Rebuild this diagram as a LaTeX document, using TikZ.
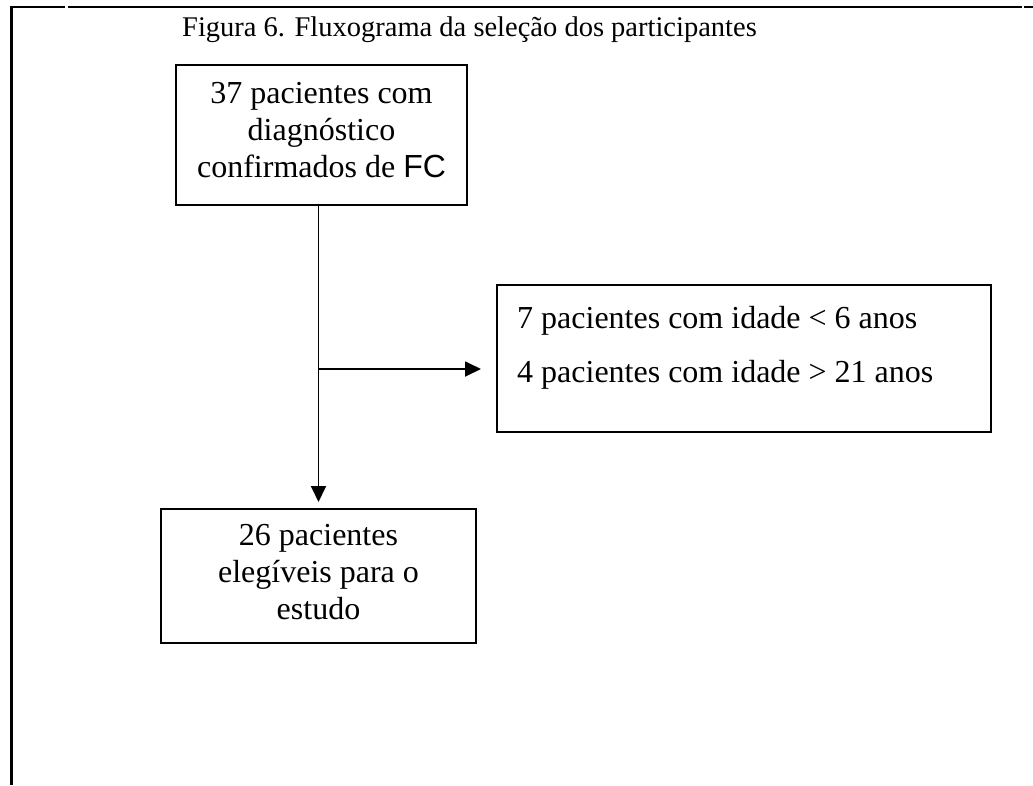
\documentclass[tikz,border=0pt]{standalone}
\usepackage{fontspec}
\setmainfont{Liberation Serif}
\newfontfamily\sansfc{Liberation Sans}
\usetikzlibrary{arrows.meta,calc}
\begin{document}
\begin{tikzpicture}[x=1pt,y=-1pt,
  frameline/.style={line width=2.8pt},
  box/.style={draw, line width=2pt, inner sep=0pt},
  txt/.style={inner sep=0pt, align=center, font=\fontsize{32}{37}\selectfont},
  conn/.style={line width=1.8pt, -{Triangle[length=16pt,width=15pt]}}]
\useasboundingbox (0,0) rectangle (1033,785);
% page frame
\draw[frameline] (11.7,785) -- (11.7,7) -- (65,7);
\draw[frameline] (68,7) -- (1022,7);
\draw[frameline] (1024,7) -- (1033,7);
% title
\node[anchor=base west, inner sep=0pt, font=\fontsize{28.5}{34}\selectfont] (title) at (182,36) {Figura 6. Fluxograma da seleção dos participantes};
% boxes
\node[box, minimum width=291pt, minimum height=140pt] (b1) at (321.5,135) {};
\node[box, minimum width=494pt, minimum height=147pt] (b2) at (744,358.5) {};
\node[box, minimum width=315pt, minimum height=134pt] (b3) at (318.5,576) {};
% texts
\node[txt, anchor=north] (t1) at (321.5,82.1) {37 pacientes com\\diagnóstico\\confirmados de {\sansfc FC}};
\node[txt, align=left, anchor=north west, font=\fontsize{32}{54}\selectfont] (t2) at (517,306.1) {7 pacientes com idade < 6 anos\\4 pacientes com idade > 21 anos};
\node[txt, anchor=north] (t3) at (318.5,524.1) {26 pacientes\\elegíveis para o\\estudo};
% connectors
\coordinate (j) at (318.5,369);
\draw[conn, shorten >=6pt] (b3.north |- b1.south) -- (b3.north);
\draw[conn, shorten >=15pt] (j) -- (j -| b2.west);
\end{tikzpicture}
\end{document}
